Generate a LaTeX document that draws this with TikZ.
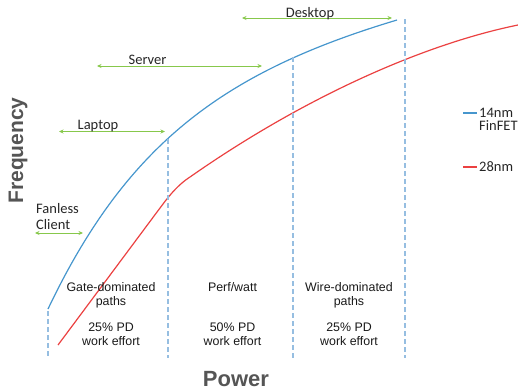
\documentclass[tikz,border=0pt]{standalone}
\usepackage{fontspec}
\setmainfont{Liberation Sans}
\newfontfamily\calfont{Carlito}
\usetikzlibrary{arrows.meta}

\definecolor{finblue}{RGB}{70,150,205}
\definecolor{planred}{RGB}{235,65,65}
\definecolor{rangegreen}{RGB}{135,200,75}
\definecolor{splitblue}{RGB}{150,190,225}
\definecolor{axisgray}{RGB}{85,85,85}

\begin{document}
\begin{tikzpicture}
  [x=1pt,y=-1pt,
   powcurve/.style={line width=1.2pt},
   splitline/.style={splitblue,line width=1.1pt,dash pattern=on 5pt off 3pt},
   spanarrow/.style={rangegreen,line width=1pt,
     {Stealth[length=4.5pt,width=4pt]}-{Stealth[length=4.5pt,width=4pt]}},
   spantext/.style={font=\calfont\fontsize{14.5}{16}\selectfont,
     text=black!85,inner sep=0pt},
   zonetext/.style={font=\fontsize{12.4}{14}\selectfont,align=center,
     text=black!90,inner sep=0pt},
   axislabel/.style={font=\bfseries,text=axisgray,anchor=base,inner sep=0pt}]
  \useasboundingbox (0,0) rectangle (518,391);

  % frequency vs power curves
  \draw[powcurve,finblue] (48,309) .. controls (128,141) and (227,71) .. (397,20);
  \draw[powcurve,planred] (58,345) -- (160,208)
    .. controls (166,200) and (176,186) .. (190,177)
    .. controls (300,100) and (420,45) .. (518,25);

  % region boundaries
  \coordinate (s0t) at (48,311);  \coordinate (s0b) at (48,357);
  \coordinate (s1t) at (168,139); \coordinate (s1b) at (168,358);
  \coordinate (s2t) at (293,57);  \coordinate (s2b) at (293,360);
  \coordinate (s3t) at (405,19);  \coordinate (s3b) at (405,358);
  \foreach \s in {s0,s1,s2,s3}
    \draw[splitline] (\s t) -- (\s b);

  % product ranges
  \coordinate (desk-l) at (242,18);  \coordinate (desk-r) at (392,18);
  \coordinate (serv-l) at (97,66);   \coordinate (serv-r) at (262,66);
  \coordinate (lap-l) at (59,131.5); \coordinate (lap-r) at (165,131.5);
  \coordinate (fan-l) at (35,233);   \coordinate (fan-r) at (83,233);
  \draw[spanarrow] (desk-l) -- (desk-r);
  \draw[spanarrow] (serv-l) -- (serv-r);
  \draw[spanarrow] (lap-l) -- (lap-r);
  \draw[spanarrow] (fan-l) -- (fan-r);
  \node[spantext,anchor=base] (desk) at (310,17.5) {Desktop};
  \node[spantext,anchor=base] (serv) at (147.5,64) {Server};
  \node[spantext,anchor=base] (lap) at (98,129) {Laptop};
  \node[spantext,anchor=north west,align=left] (fan) at (36,202.8)
    {Fanless\\Client};

  % regions
  \node[zonetext] (gate) at (111,295) {Gate-dominated\\paths};
  \node[zonetext] (gate-pd) at (111,334) {25\% PD\\work effort};
  \node[zonetext,anchor=base] (perf) at (232.5,291.5) {Perf/watt};
  \node[zonetext] (perf-pd) at (232.5,334) {50\% PD\\work effort};
  \node[zonetext] (wire) at (349,295) {Wire-dominated\\paths};
  \node[zonetext] (wire-pd) at (349,334) {25\% PD\\work effort};

  % legend
  \coordinate (key14-l) at (463,113); \coordinate (key14-r) at (477,113);
  \coordinate (key28-l) at (463,167); \coordinate (key28-r) at (477,167);
  \draw[powcurve,finblue] (key14-l) -- (key14-r);
  \draw[powcurve,planred] (key28-l) -- (key28-r);
  \node[spantext,anchor=north west,align=left,
    font=\calfont\fontsize{14.5}{13}\selectfont] (lab14) at (479,107.8)
    {14nm\\FinFET};
  \node[spantext,anchor=base west] (lab28) at (479,171) {28nm};

  % axes
  \node[axislabel,rotate=90,font=\bfseries\fontsize{21}{24}\selectfont]
    (freq) at (23,150.5) {Frequency};
  \node[axislabel,font=\bfseries\fontsize{22}{26}\selectfont]
    (pow) at (236,386.5) {Power};
\end{tikzpicture}
\end{document}
